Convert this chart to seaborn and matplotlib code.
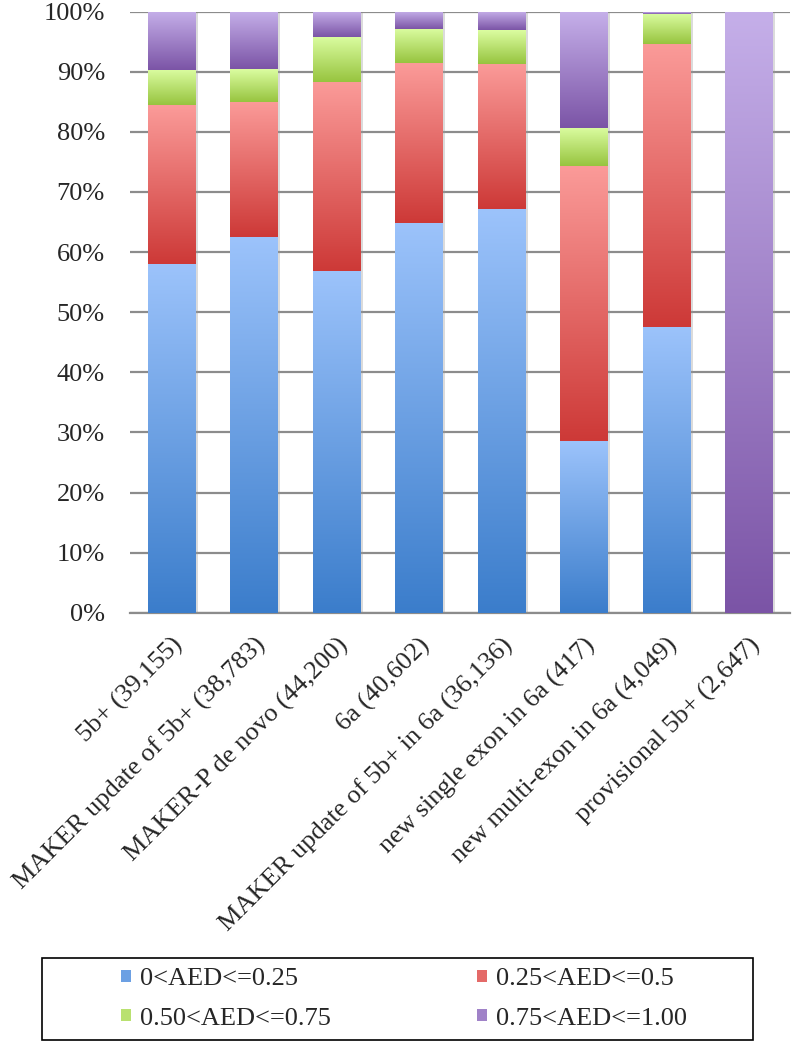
import numpy as np
import matplotlib
matplotlib.use("Agg")
import matplotlib.pyplot as plt
import matplotlib.patheffects as pe
from matplotlib.colors import LinearSegmentedColormap, to_rgb
from matplotlib.patches import Patch, Rectangle
import seaborn as sns

categories = ['5b+ (39,155)', 'MAKER update of 5b+ (38,783)', 'MAKER-P de novo (44,200)',
              '6a (40,602)', 'MAKER update of 5b+ in 6a (36,136)', 'new single exon in 6a (417)',
              'new multi-exon in 6a (4,049)', 'provisional 5b+ (2,647)']
aed_0_25 = [58.0, 62.5, 56.8, 64.8, 67.1, 28.5, 47.5, 0.0]
aed_25_50 = [26.4, 22.5, 31.5, 26.6, 24.2, 45.8, 47.1, 0.0]
aed_50_75 = [5.9, 5.4, 7.5, 5.7, 5.6, 6.4, 5.1, 0.0]
aed_75_100 = [9.7, 9.6, 4.2, 2.9, 3.1, 19.3, 0.3, 100.0]
series_labels = ['0<AED<=0.25', '0.25<AED<=0.5', '0.50<AED<=0.75', '0.75<AED<=1.00']

# dark (bottom) -> light (top) gradient per series
grad_colors = [('#3b7dcb', '#9cc3fb'), ('#cd3937', '#fb9b99'),
               ('#97c43f', '#dbfda1'), ('#7b54a6', '#c5afe9')]

sns.set_style('white')
plt.rcParams['font.family'] = ['Liberation Serif', 'DejaVu Serif']

fig = plt.figure(figsize=(7.93, 10.42), dpi=100)
ax = fig.add_axes([130 / 793, 1 - 612.7 / 1042, 660 / 793, 601 / 1042])

series = [aed_0_25, aed_25_50, aed_50_75, aed_75_100]
bottom = np.zeros(len(categories))
gradient = np.linspace(0, 1, 256).reshape(-1, 1)
for vals, (dark, light) in zip(series, grad_colors):
    n0 = len(ax.patches)
    sns.barplot(x=categories, y=vals, bottom=bottom, ax=ax, width=0.57,
                color=light, linewidth=0, zorder=2)
    cmap = LinearSegmentedColormap.from_list('g', [dark, light])
    for p in ax.patches[n0:]:
        x, y = p.get_x(), p.get_y()
        w, h = p.get_width(), p.get_height()
        if h <= 0:
            p.set_visible(False)
            continue
        p.set_path_effects([pe.SimplePatchShadow(offset=(2, -1), shadow_rgbFace='#999999', alpha=0.35),
                            pe.Normal()])
        ax.imshow(gradient, extent=[x, x + w, y, y + h], origin='lower',
                  cmap=cmap, aspect='auto', zorder=3, interpolation='bilinear')
    bottom = bottom + np.array(vals)

ax.set_xlim(-0.5, len(categories) - 0.5)
ax.set_ylim(0, 100)
ax.set_yticks(np.arange(0, 101, 10))
ax.set_yticklabels([f'{v}%' for v in range(0, 101, 10)])
ax.yaxis.grid(True, color='#8c8c8c', linewidth=1.6, zorder=0)
ax.set_axisbelow(True)
for s in ['top', 'right', 'left']:
    ax.spines[s].set_visible(False)
ax.spines['bottom'].set_color('#8c8c8c')
ax.spines['bottom'].set_linewidth(1.6)
ax.tick_params(axis='y', length=0, pad=18, labelsize=19)
ax.tick_params(axis='x', length=0, pad=15, labelsize=19)
plt.setp(ax.get_xticklabels(), rotation=45, ha='right', va='top', rotation_mode='anchor')
ax.set_xlabel('')
ax.set_ylabel('')

# legend box
fig.add_artist(Rectangle((42 / 793, 1 - 1040 / 1042), 711 / 793, 82 / 1042,
                         transform=fig.transFigure, fill=False, edgecolor='black', linewidth=1.2))
mid = [tuple((np.array(to_rgb(d)) + np.array(to_rgb(l))) / 2) for d, l in grad_colors]
handles = [Patch(facecolor=c, edgecolor='none') for c in mid]
order = [0, 2, 1, 3]  # fill legend row by row
fig.legend([handles[i] for i in order], [series_labels[i] for i in order], ncol=2, mode='expand',
           loc='center', bbox_to_anchor=(121 / 793, 1 - 1039 / 1042, 566 / 793, 80 / 1042),
           frameon=False, fontsize=19, handlelength=0.36, handleheight=0.36,
           handletextpad=0.35, labelspacing=0.65, borderpad=0, borderaxespad=0)

fig.savefig('out.png', dpi=100)
